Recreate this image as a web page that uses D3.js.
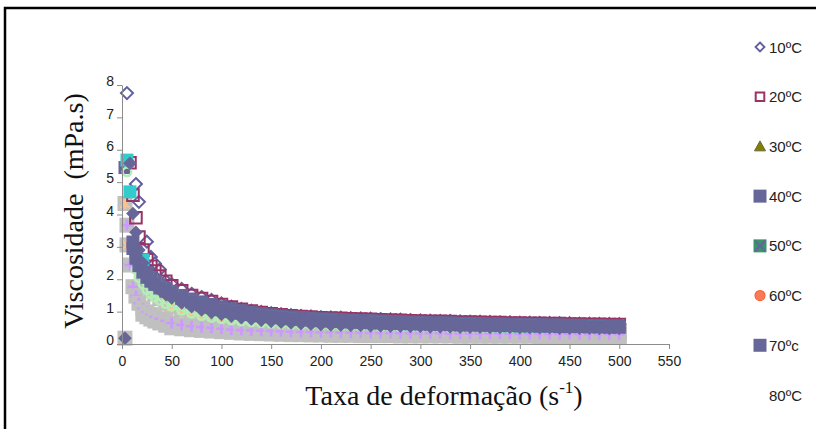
<!DOCTYPE html>
<html><head><meta charset="utf-8">
<script src="https://cdn.jsdelivr.net/npm/d3@7"></script>
<style>body{margin:0;background:#fff}svg{display:block}</style>
</head><body><svg id="c" width="816" height="429"></svg>
<script>
// ---------- data ----------
const shearRate = [1,3,5,8,11,14,17,21,25,29,33,38,44,50,60,70,80,90,
 100,110,120,130,140,150,160,170,180,190,200,210,220,230,240,250,260,270,280,290,300,
 310,320,330,340,350,360,370,380,390,400,410,420,430,440,450,460,470,480,490,500];

const visc10 = [null,null,7.75,null,null,4.94,4.39,null,3.16,2.69,2.49,2.3,1.95,1.85,1.7,1.55,1.45,1.36,
 1.25,1.15,1.08,1.03,0.99,0.95,0.92,0.89,0.87,0.85,0.83,
 0.82,0.81,0.8,0.79,0.78,0.77,0.76,0.75,0.74,0.73,
 0.72,0.71,0.71,0.7,0.69,0.69,0.68,0.67,0.67,0.66,
 0.66,0.65,0.65,0.64,0.64,0.63,0.63,0.62,0.62,0.61];
const visc20 = [null,null,null,5.6,4.6,3.9,3.3,2.9,2.6,2.4,2.25,2.1,1.94,1.8,1.64,1.5,1.4,1.31,
 1.22,1.14,1.07,1.02,0.97,0.93,0.9,0.87,0.85,0.83,0.81,
 0.8,0.79,0.78,0.77,0.76,0.75,0.74,0.73,0.72,0.71,
 0.7,0.7,0.69,0.68,0.68,0.67,0.66,0.66,0.65,0.65,
 0.64,0.64,0.63,0.63,0.62,0.62,0.61,0.61,0.6,0.6];
const visc30 = [null,null,null,null,null,null,null,2.3,2.12,1.99,1.88,1.77,1.66,1.57,1.44,1.33,1.24,1.17,
 1.1,1.04,0.99,0.94,0.9,0.87,0.84,0.81,0.79,0.77,0.75,
 0.74,0.72,0.71,0.7,0.69,0.68,0.67,0.66,0.65,0.64,
 0.64,0.63,0.62,0.62,0.61,0.6,0.6,0.59,0.59,0.58,
 0.58,0.57,0.57,0.56,0.56,0.56,0.55,0.55,0.54,0.54];
const visc40 = [null,5.45,null,null,3.15,2.85,2.6,2.38,2.2,2.06,1.95,1.83,1.72,1.63,1.5,1.39,1.3,1.22,
 1.15,1.09,1.03,0.98,0.94,0.9,0.87,0.84,0.82,0.8,0.78,
 0.77,0.75,0.74,0.73,0.72,0.71,0.7,0.69,0.68,0.67,
 0.66,0.66,0.65,0.64,0.64,0.63,0.62,0.62,0.61,0.61,
 0.6,0.6,0.59,0.59,0.58,0.58,0.57,0.57,0.56,0.56];
const visc50 = [null,null,null,null,null,null,null,2.26,2.09,1.96,1.86,1.75,1.65,1.56,1.43,1.31,1.22,1.15,
 1.08,1.02,0.97,0.93,0.89,0.85,0.82,0.8,0.78,0.76,0.74,
 0.72,0.71,0.7,0.69,0.68,0.67,0.66,0.65,0.64,0.63,
 0.63,0.62,0.61,0.61,0.6,0.6,0.59,0.59,0.58,0.58,
 0.57,0.57,0.56,0.56,0.55,0.55,0.55,0.54,0.54,0.53];
const visc60 = [null,null,null,null,null,null,null,2.18,2.02,1.9,1.8,1.7,1.6,1.51,1.38,1.27,1.18,1.11,
 1.04,0.98,0.93,0.89,0.85,0.82,0.79,0.77,0.75,0.73,0.71,
 0.7,0.69,0.67,0.66,0.65,0.64,0.63,0.63,0.62,0.61,
 0.6,0.6,0.59,0.59,0.58,0.58,0.57,0.57,0.56,0.56,
 0.55,0.55,0.54,0.54,0.54,0.53,0.53,0.52,0.52,0.52];
const visc70 = [null,null,null,null,2.95,2.65,2.42,2.22,2.06,1.94,1.84,1.73,1.63,1.54,1.41,1.3,1.21,1.13,
 1.06,1.0,0.95,0.91,0.87,0.84,0.81,0.78,0.76,0.74,0.72,
 0.71,0.7,0.68,0.67,0.66,0.65,0.64,0.64,0.63,0.62,
 0.61,0.61,0.6,0.59,0.59,0.58,0.58,0.57,0.57,0.56,
 0.56,0.55,0.55,0.54,0.54,0.54,0.53,0.53,0.52,0.52];
const visc80 = [null,0.18,null,5.58,4.03,3.45,2.9,2.5,2.2,2.0,1.83,1.67,1.53,1.42,1.27,1.15,1.05,0.97,
 0.91,0.86,0.81,0.77,0.73,0.7,0.67,0.65,0.63,0.61,0.6,
 0.59,0.58,0.57,0.57,0.56,0.56,0.55,0.55,0.54,0.54,
 0.53,0.53,0.53,0.52,0.52,0.52,0.51,0.51,0.51,0.5,
 0.5,0.5,0.5,0.49,0.49,0.49,0.49,0.48,0.48,0.48];
// extra (unlabelled) series seen in the plot
const viscTeal = [null,null,5.68,4.7,null,null,null,2.6,2.05,1.93,1.83,1.72,1.62,1.53,1.4,1.29,1.2,1.12,
 1.05,0.99,0.94,0.9,0.86,0.83,0.8,0.77,0.75,0.73,0.71,
 0.7,0.69,0.67,0.66,0.65,0.64,0.63,0.63,0.62,0.61,
 0.6,0.6,0.59,0.58,0.58,0.57,0.57,0.56,0.56,0.55,
 0.55,0.54,0.54,0.53,0.53,0.53,0.52,0.52,0.51,0.51];
const viscGreen = [null,null,5.32,null,null,2.3,2.05,1.85,1.68,1.55,1.45,1.35,1.25,1.17,1.04,0.95,0.88,0.82,
 0.78,0.74,0.71,0.68,0.66,0.64,0.62,0.61,0.6,0.59,0.58,
 0.57,0.56,0.56,0.55,0.55,0.54,0.54,0.53,0.53,0.52,
 0.52,0.52,0.51,0.51,0.51,0.5,0.5,0.5,0.49,0.49,
 0.49,0.49,0.48,0.48,0.48,0.48,0.47,0.47,0.47,0.47];
const viscOrange = [null,4.34,3.06,null,null,null,null,2.0,1.8,1.66,1.55,1.4,1.26,1.15,1.05,0.97,0.9,0.84,
 0.79,0.75,0.71,0.67,0.64,0.61,0.59,0.57,0.55,0.54,0.53,
 0.52,0.51,0.5,0.5,0.49,0.49,0.48,0.48,0.47,0.47,
 0.46,0.46,0.46,0.45,0.45,0.45,0.44,0.44,0.44,0.43,
 0.43,0.43,0.43,0.42,0.42,0.42,0.42,0.41,0.41,0.41];
const viscLavender = [null,null,3.67,2.44,1.77,1.48,1.26,1.1,0.99,0.91,0.84,0.78,0.72,0.65,0.59,0.55,0.52,0.5,
 0.47,0.45,0.43,0.42,0.41,0.4,0.39,0.38,0.37,0.37,0.36,
 0.36,0.35,0.35,0.35,0.34,0.34,0.34,0.33,0.33,0.33,
 0.33,0.33,0.32,0.32,0.32,0.32,0.32,0.32,0.31,0.31,
 0.31,0.31,0.31,0.31,0.31,0.3,0.3,0.3,0.3,0.3];
const viscGray = [null,0.18,null,null,null,null,null,0.92,0.84,0.77,0.71,0.65,0.58,0.5,0.47,0.44,0.42,0.4,
 0.38,0.36,0.34,0.33,0.32,0.31,0.3,0.29,0.29,0.28,0.28,
 0.27,0.27,0.27,0.26,0.26,0.26,0.26,0.25,0.25,0.25,
 0.25,0.25,0.25,0.24,0.24,0.24,0.24,0.24,0.24,0.24,
 0.24,0.23,0.23,0.23,0.23,0.23,0.23,0.23,0.23,0.23];

const legendLabels = ["10ºC","20ºC","30ºC","40ºC","50ºC","60ºC","70ºc","80ºC"];
const xTicks = [0,50,100,150,200,250,300,350,400,450,500,550];
const yTicks = [0,1,2,3,4,5,6,7,8];

// ---------- drawing ----------
const svg = d3.select("#c");
const x = d3.scaleLinear().domain([0,550]).range([122,669]);
const y = d3.scaleLinear().domain([0,8]).range([344,85]);

svg.append("path").attr("d","M5,430V8H816").attr("fill","none").attr("stroke","#000").attr("stroke-width",2.5);

function shape(t, r){
  switch(t){
    case "diamond": return `M0,${-r}L${r},0L0,${r}L${-r},0Z`;
    case "square": return `M${-r},${-r}h${2*r}v${2*r}h${-2*r}Z`;
    case "triangle": return `M0,${-r}L${r},${r*0.8}L${-r},${r*0.8}Z`;
    case "circle": return `M${r},0A${r},${r} 0 1,1 ${-r},0A${r},${r} 0 1,1 ${r},0Z`;
    case "x": return `M${-r},${-r}L${r},${r}M${r},${-r}L${-r},${r}`;
    case "plus": return `M${-r},0H${r}M0,${-r}V${r}`;
    case "star": return `M${-r},${-r}L${r},${r}M${r},${-r}L${-r},${r}M0,${-r*1.2}V${r*1.2}`;
  }
}
const pts = arr => shearRate.map((s,i)=>({s, v: arr[i]})).filter(d=>d.v!=null);
const plot = svg.append("g");

function markers(arr, o){
  const g = plot.append("g");
  const sel = g.selectAll("g").data(pts(arr)).join("g")
    .attr("transform", d=>`translate(${x(d.s)},${y(d.v)})`);
  if(o.bg) sel.append("path").attr("d", shape("square", o.bgR)).attr("fill", o.bg);
  sel.append("path").attr("d", shape(o.shape, o.r))
    .attr("fill", o.fill || "none").attr("stroke", o.stroke || "none")
    .attr("stroke-width", o.sw || 0);
  if(o.over) sel.append("path").attr("d", shape(o.over, o.r*0.8)).attr("fill","none")
    .attr("stroke", o.overStroke).attr("stroke-width", 2);
}

// axes
const yAxis = svg.append("g").attr("transform","translate(122,0)")
  .call(d3.axisLeft(y).tickValues(yTicks).tickSize(5).tickSizeOuter(0).tickFormat(d3.format("d")));
const xAxis = svg.append("g").attr("transform","translate(0,344)")
  .call(d3.axisBottom(x).tickValues(xTicks).tickSize(5).tickSizeOuter(0).tickFormat(d3.format("d")));
[yAxis,xAxis].forEach(a=>{
  a.select(".domain").attr("stroke","#8c8c8c");
  a.selectAll(".tick line").attr("stroke","#8c8c8c");
  a.selectAll("text").attr("font-family","'Liberation Sans', Arial, sans-serif")
    .attr("font-size",14).attr("fill","#222");
});
yAxis.selectAll("text").attr("x",-8).attr("dy","0.05em");
xAxis.selectAll("text").attr("y",10).attr("dy","0.85em");

// series, in drawing order
markers(viscGray, {shape:"square", r:7.5, fill:"#C0C0C0"});
markers(viscOrange, {shape:"star", r:4.5, stroke:"#FBC48E", sw:2.2, bg:"#C0C0C0", bgR:7.5});
markers(viscLavender, {shape:"plus", r:5.5, stroke:"#CC99FF", sw:2.6, bg:"#C0C0C0", bgR:7.5});
markers(visc10, {shape:"diamond", r:6, fill:"#fff", stroke:"#5F5F9F", sw:2});
markers(visc20, {shape:"square", r:5.8, fill:"none", stroke:"#993366", sw:2});
markers(visc30, {shape:"triangle", r:5.5, fill:"#808000"});
markers(visc50, {shape:"square", r:6, fill:"#339966", over:"x", overStroke:"#666699"});
markers(visc60, {shape:"circle", r:5, fill:"#F87A5A", stroke:"#FF6633", sw:1});
markers(visc40, {shape:"square", r:6.5, fill:"#666699"});
markers(viscTeal, {shape:"square", r:6.5, fill:"#33CCCC"});
const gLine = d3.line().defined(d=>d.v!=null).x(d=>x(d.s)).y(d=>y(d.v));
plot.append("path").datum(shearRate.map((s,i)=>({s, v: viscGreen[i]})))
  .attr("d", gLine).attr("fill","none").attr("stroke","#B4EEB4").attr("stroke-width",2);
markers(viscGreen, {shape:"circle", r:4.3, stroke:"#B4EEB4", sw:2.4});
markers(visc70, {shape:"square", r:6.5, fill:"#666699"});
markers(visc80, {shape:"diamond", r:6.8, fill:"#666699"});

// axis titles
svg.append("text").attr("transform","translate(83,211) rotate(-90)")
  .attr("text-anchor","middle").attr("font-family","'Liberation Serif','Times New Roman',serif")
  .attr("font-size",28).attr("fill","#111").attr("xml:space","preserve")
  .text("Viscosidade  (mPa.s)");
const xt = svg.append("text").attr("x",444).attr("y",405).attr("text-anchor","middle")
  .attr("font-family","'Liberation Serif','Times New Roman',serif").attr("font-size",28).attr("fill","#111");
xt.append("tspan").text("Taxa de deformação (s");
xt.append("tspan").attr("font-size",17).attr("dy",-12).text("-1");
xt.append("tspan").attr("dy",12).text(")");

// legend
const legY = d3.scaleLinear().domain([0,7]).range([47,395]);
const legendMarks = [
  {shape:"diamond", r:4.5, fill:"#fff", stroke:"#5F5F9F", sw:1.8},
  {shape:"square", r:4.3, fill:"#fff", stroke:"#993366", sw:2},
  {shape:"triangle", r:5.5, fill:"#808000", stroke:"#666633", sw:1},
  {shape:"square", r:6.5, fill:"#666699"},
  {shape:"square", r:6.5, fill:"#339966", over:"x", overStroke:"#666699"},
  {shape:"circle", r:5, fill:"#F87A5A", stroke:"#FF6633", sw:1.2},
  {shape:"square", r:6.5, fill:"#666699"},
  null
];
const leg = svg.append("g");
legendLabels.forEach((lab,i)=>{
  const g = leg.append("g").attr("transform",`translate(760,${legY(i)})`);
  const m = legendMarks[i];
  if(m){
    g.append("path").attr("d", shape(m.shape, m.r)).attr("fill", m.fill||"none")
      .attr("stroke", m.stroke||"none").attr("stroke-width", m.sw||0);
    if(m.over) g.append("path").attr("d", shape(m.over, m.r*0.8)).attr("fill","none")
      .attr("stroke", m.overStroke).attr("stroke-width",2.5);
  }
  g.append("text").attr("x",9).attr("y",5.5).attr("font-family","'Liberation Sans', Arial, sans-serif")
    .attr("font-size",15).attr("fill","#222").text(lab);
});
</script></body></html>
